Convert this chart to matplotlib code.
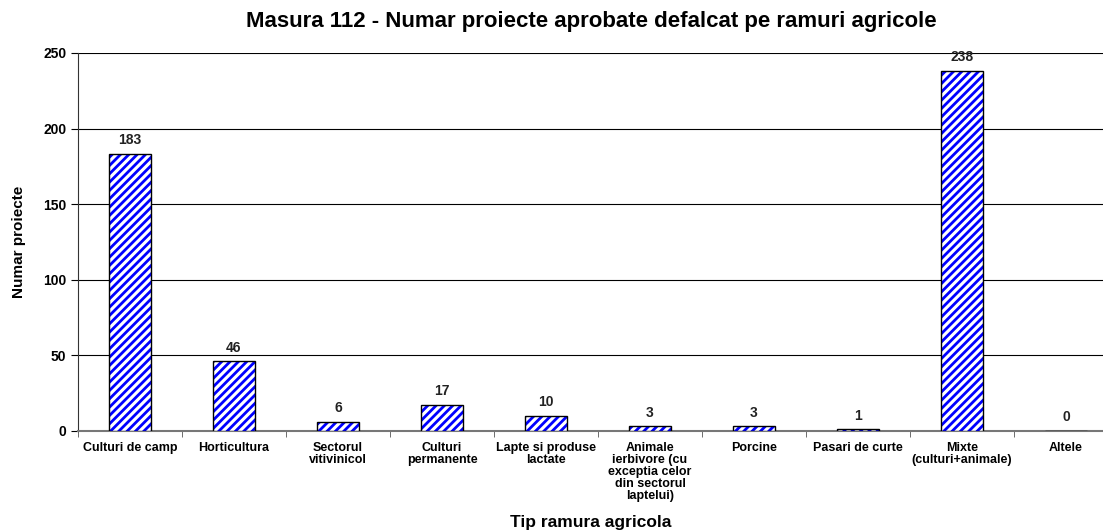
import numpy as np
import matplotlib
matplotlib.use('Agg')
import matplotlib.pyplot as plt

plt.rcParams['font.family'] = ['Liberation Sans', 'DejaVu Sans']
plt.rcParams['hatch.linewidth'] = 2.0

categories = ['Culturi de camp', 'Horticultura', 'Sectorul\nvitivinicol', 'Culturi\npermanente',
              'Lapte si produse\nlactate', 'Animale\nierbivore (cu\nexceptia celor\ndin sectorul\nlaptelui)',
              'Porcine', 'Pasari de curte', 'Mixte\n(culturi+animale)', 'Altele']
values = [183, 46, 6, 17, 10, 3, 3, 1, 238, 0]

fig = plt.figure(figsize=(11.03, 5.31), dpi=100)
ax = fig.add_axes([78/1103, 100/531, 1040/1103, 378/531])

x = np.arange(len(categories))
# hatch drawn in blue, outline drawn separately in black
ax.bar(x, values, width=0.4, color='white', edgecolor='#0000ff', linewidth=0, hatch='////', zorder=3)
ax.bar(x, values, width=0.4, color='none', edgecolor='black', linewidth=1.0, zorder=4)
for xi, v in zip(x, values):
    ax.text(xi, v + 4.5, str(v), ha='center', va='bottom', fontsize=10, fontweight='bold', color='#222222')

ax.set_xlim(-0.5, len(categories) - 0.5)
ax.set_ylim(0, 250)
ax.set_yticks(range(0, 251, 50))
ax.yaxis.grid(True, color='black', linewidth=0.8, zorder=0)
ax.set_axisbelow(True)
for s in ['top', 'right']:
    ax.spines[s].set_visible(False)
ax.spines['left'].set_color('#333333')
ax.spines['bottom'].set_color('#777777')
ax.spines['bottom'].set_linewidth(1.5)

ax.set_xticks(x)
ax.set_xticklabels(categories, fontsize=9, fontweight='bold', va='top', linespacing=1.0)
ax.tick_params(axis='x', length=0, pad=8)
ax.set_xticks(np.arange(-0.5, len(categories), 1), minor=True)
ax.tick_params(axis='x', which='minor', length=4, color='#555555')
ax.tick_params(axis='y', labelsize=10, length=5)
for lbl in ax.get_yticklabels():
    lbl.set_fontweight('bold')

ax.set_ylabel('Numar proiecte', fontsize=11, fontweight='bold', labelpad=12)
fig.text(591/1103, 1 - 22/531, 'Masura 112 - Numar proiecte aprobate defalcat pe ramuri agricole',
         ha='center', va='center', fontsize=16, fontweight='bold')
fig.text(591/1103, 1 - 523/531, 'Tip ramura agricola', ha='center', va='center', fontsize=12.5, fontweight='bold')

fig.savefig('out.png', dpi=100)
